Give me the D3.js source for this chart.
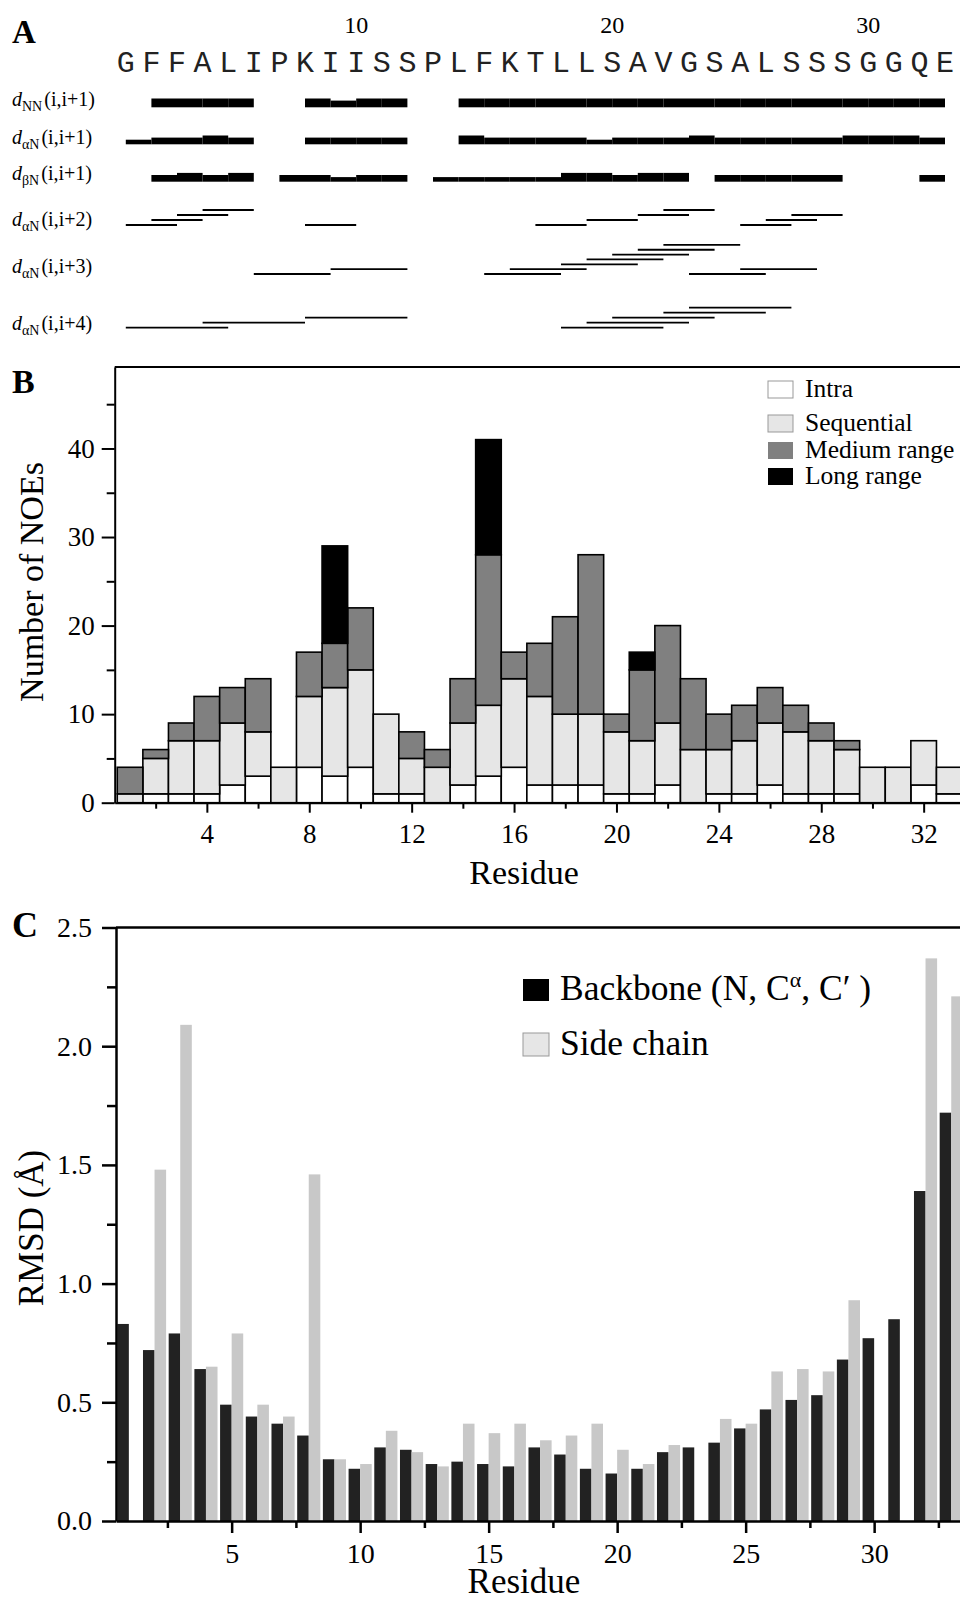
<!DOCTYPE html>
<html>
<head>
<meta charset="utf-8">
<script src="https://cdn.jsdelivr.net/npm/d3@7"></script>
<style>
body { margin: 0; background: #fff; }
text { font-family: "Liberation Serif", "Times New Roman", serif; }
</style>
</head>
<body>
<svg width="960" height="1599"></svg>
<script>
// sequence, one letter per residue
var sequence = ["G","F","F","A","L","I","P","K","I","I","S","S","P","L","F","K","T","L","L","S","A","V","G","S","A","L","S","S","S","G","G","Q","E"]
var seqNumbers = [10, 20, 30]

// panel A: sequential connectivities [i, strength], segment i -> i+1
var dNN = [[2,3],[3,3],[4,3],[5,3],[8,3],[9,2],[10,3],[11,3],[14,3],[15,3],[16,3],[17,3],[18,3],[19,3],[20,3],[21,3],[22,3],[23,3],[24,3],[25,3],[26,3],[27,3],[28,3],[29,3],[30,3],[31,3],[32,3]]
var dAN = [[1,1],[2,2],[3,2],[4,3],[5,2],[8,2],[9,2],[10,2],[11,2],[14,3],[15,2],[16,2],[17,2],[18,2],[19,1],[20,2],[21,2],[22,2],[23,3],[24,2],[25,2],[26,2],[27,2],[28,2],[29,3],[30,3],[31,3],[32,2]]
var dBN = [[2,2],[3,3],[4,2],[5,3],[7,2],[8,2],[9,1],[10,2],[11,2],[13,1],[14,1],[15,1],[16,1],[17,1],[18,3],[19,3],[20,2],[21,3],[22,3],[24,2],[25,2],[26,2],[27,2],[28,2],[32,2]]
// medium range connectivities [i, stacking level]
var dAN2 = [[1,0],[2,1],[3,2],[4,3],[8,0],[17,0],[19,1],[21,2],[22,3],[25,0],[26,1],[27,2]]
var dAN3 = [[6,0],[9,1],[15,0],[16,1],[18,2],[19,3],[20,4],[21,5],[22,6],[23,0],[25,1]]
var dAN4 = [[1,0],[4,1],[8,2],[18,0],[19,1],[20,2],[22,3],[23,4]]

// panel B: number of NOEs per residue
var noeIntra = [0,1,1,1,2,3,0,4,3,4,1,1,0,2,3,4,2,2,2,1,1,2,0,1,1,2,1,1,1,0,0,2,1]
var noeSeq   = [1,4,6,6,7,5,4,8,10,11,9,4,4,7,8,10,10,8,8,7,6,7,6,5,6,7,7,6,5,4,4,5,3]
var noeMed   = [3,1,2,5,4,6,0,5,5,7,0,3,2,5,17,3,6,11,18,2,8,11,8,4,4,4,3,2,1,0,0,0,0]
var noeLong  = [0,0,0,0,0,0,0,0,11,0,0,0,0,0,13,0,0,0,0,0,2,0,0,0,0,0,0,0,0,0,0,0,0]
var noeKeys = ["intra","seq","med","long"]
var noeNames = ["Intra","Sequential","Medium range","Long range"]
var bTicksX = [4,8,12,16,20,24,28,32]
var bMinorX = [2,6,10,14,18,22,26,30]
var bTicksY = [0,10,20,30,40]
var bMinorY = [5,15,25,35,45]

// panel C: RMSD per residue
var rmsdBackbone = [0.83,0.72,0.79,0.64,0.49,0.44,0.41,0.36,0.26,0.22,0.31,0.30,0.24,0.25,0.24,0.23,0.31,0.28,0.22,0.20,0.22,0.29,0.31,0.33,0.39,0.47,0.51,0.53,0.68,0.77,0.85,1.39,1.72]
var rmsdSide = [null,1.48,2.09,0.65,0.79,0.49,0.44,1.46,0.26,0.24,0.38,0.29,0.23,0.41,0.37,0.41,0.34,0.36,0.41,0.30,0.24,0.32,null,0.43,0.41,0.63,0.64,0.63,0.93,null,null,2.37,2.21]
var cTicksX = [5,10,15,20,25,30]
var cMinorX = [2.5,7.5,12.5,17.5,22.5,27.5,32.5]
var cTicksY = [0,0.5,1,1.5,2,2.5]
var cMinorY = [0.25,0.75,1.25,1.75,2.25]

var serif = '"Liberation Serif", "Times New Roman", serif'
var svg = d3.select("svg")

// ---------- panel A ----------
var xA = d3.scaleLinear().domain([1, 33]).range([125.8, 945])
var thick = d3.scaleLinear().domain([1, 3]).range([4.6, 8.8])

svg.append("text").attr("x", 12).attr("y", 43).attr("font-size", 33)
	.attr("font-weight", "bold").text("A")

svg.append("g").selectAll("text").data(seqNumbers).enter().append("text")
	.attr("x", function(d) { return xA(d) }).attr("y", 33)
	.attr("text-anchor", "middle").attr("font-size", 24).text(function(d) { return d })

svg.append("g").selectAll("text").data(sequence).enter().append("text")
	.attr("x", function(d, i) { return xA(i + 1) }).attr("y", 72)
	.attr("text-anchor", "middle").attr("font-size", 30).attr("fill", "#222")
	.style("font-family", '"Liberation Mono", "Courier New", monospace')
	.text(function(d) { return d })

function rowLabel(y, sub, range) {
	var t = svg.append("text").attr("x", 12).attr("y", y).attr("font-size", 20)
	t.append("tspan").attr("font-style", "italic").text("d")
	t.append("tspan").attr("font-size", 14).attr("dy", 5).text(sub)
	t.append("tspan").attr("dy", -5).attr("dx", 2).text(range)
}
rowLabel(106, "NN", "(i,i+1)")
rowLabel(144, "\u03b1N", "(i,i+1)")
rowLabel(180, "\u03b2N", "(i,i+1)")
rowLabel(226, "\u03b1N", "(i,i+2)")
rowLabel(273, "\u03b1N", "(i,i+3)")
rowLabel(330, "\u03b1N", "(i,i+4)")

function seqRow(data, bottom) {
	svg.append("g").selectAll("rect").data(data).enter().append("rect")
		.attr("x", function(d) { return xA(d[0]) })
		.attr("width", function(d) { return xA(d[0] + 1) - xA(d[0]) })
		.attr("y", function(d) { return bottom - thick(d[1]) })
		.attr("height", function(d) { return thick(d[1]) })
		.attr("fill", "#000")
}
seqRow(dNN, 107.3)
seqRow(dAN, 144.3)
seqRow(dBN, 181.7)

function medRow(data, k, base, step) {
	svg.append("g").selectAll("line").data(data).enter().append("line")
		.attr("x1", function(d) { return xA(d[0]) })
		.attr("x2", function(d) { return xA(d[0] + k) })
		.attr("y1", function(d) { return base - d[1] * step })
		.attr("y2", function(d) { return base - d[1] * step })
		.attr("stroke", "#000").attr("stroke-width", 1.8)
}
medRow(dAN2, 2, 225, 5)
medRow(dAN3, 3, 274, 4.85)
medRow(dAN4, 4, 327.7, 5)

// ---------- panel B ----------
var xB = d3.scaleLinear().domain([0.4, 33.4]).range([114.7, 959.5])
var yB = d3.scaleLinear().domain([0, 49.2]).range([802.7, 367])
var noeFill = d3.scaleOrdinal().domain(noeKeys).range(["#ffffff", "#e6e6e6", "#808080", "#000000"])

var noeRows = sequence.map(function(s, i) {
	return { res: i + 1, intra: noeIntra[i], seq: noeSeq[i], med: noeMed[i], long: noeLong[i] }
})
var stacked = d3.stack().keys(noeKeys)(noeRows)

svg.append("text").attr("x", 12).attr("y", 393).attr("font-size", 34)
	.attr("font-weight", "bold").text("B")

var gB = svg.append("g")
gB.selectAll("g.layer").data(stacked).enter().append("g").attr("class", "layer")
	.attr("fill", function(d) { return noeFill(d.key) })
	.selectAll("rect").data(function(d) { return d.filter(function(p) { return p[1] > p[0] }) })
	.enter().append("rect")
	.attr("x", function(d) { return xB(d.data.res - 0.5) })
	.attr("width", function(d) { return xB(d.data.res + 0.5) - xB(d.data.res - 0.5) })
	.attr("y", function(d) { return yB(d[1]) })
	.attr("height", function(d) { return yB(d[0]) - yB(d[1]) })
	.attr("stroke", "#000").attr("stroke-width", 1.6)

function styleAxis(g, size, width) {
	g.attr("font-family", serif).attr("font-size", size)
	g.selectAll("path, line").attr("stroke", "#000").attr("stroke-width", width)
	g.selectAll("text").attr("fill", "#000")
}

var axBx = gB.append("g").attr("transform", "translate(0,802.7)")
	.call(d3.axisBottom(xB).tickValues(bTicksX).tickSize(10).tickSizeOuter(0).tickPadding(11).tickFormat(d3.format("d")))
styleAxis(axBx, 27, 2)
var axBxm = gB.append("g").attr("transform", "translate(0,802.7)")
	.call(d3.axisBottom(xB).tickValues(bMinorX).tickSize(6).tickFormat(""))
axBxm.select(".domain").remove()
styleAxis(axBxm, 27, 2)

var axBy = gB.append("g").attr("transform", "translate(114.7,0)")
	.call(d3.axisLeft(yB).tickValues(bTicksY).tickSize(13).tickSizeOuter(0).tickPadding(7))
styleAxis(axBy, 27, 2)
var axBym = gB.append("g").attr("transform", "translate(114.7,0)")
	.call(d3.axisLeft(yB).tickValues(bMinorY).tickSize(8).tickFormat(""))
axBym.select(".domain").remove()
styleAxis(axBym, 27, 2)

gB.append("line").attr("x1", 114.7).attr("x2", 960).attr("y1", yB(49.2)).attr("y2", yB(49.2))
	.attr("stroke", "#000").attr("stroke-width", 2)

gB.append("text").attr("x", 524).attr("y", 884).attr("text-anchor", "middle")
	.attr("font-size", 34).text("Residue")
gB.append("text").attr("transform", "translate(43,582) rotate(-90)")
	.attr("text-anchor", "middle").attr("font-size", 34).text("Number of NOEs")

var legB = gB.append("g").selectAll("g").data(noeKeys).enter().append("g")
	.attr("transform", function(d, i) { return "translate(768," + [381, 415, 442, 468][i] + ")" })
legB.append("rect").attr("width", 25).attr("height", 17)
	.attr("fill", function(d) { return noeFill(d) })
	.attr("stroke", function(d, i) { return i < 2 ? "#999" : "none" })
legB.append("text").attr("x", 37).attr("y", 16).attr("font-size", 25.5)
	.text(function(d, i) { return noeNames[i] })

// ---------- panel C ----------
var xC = d3.scaleLinear().domain([0.5, 33.8]).range([116, 971.8])
var yC = d3.scaleLinear().domain([0, 2.5]).range([1521, 927.5])

svg.append("text").attr("x", 12).attr("y", 937).attr("font-size", 36)
	.attr("font-weight", "bold").text("C")

var gC = svg.append("g")
gC.append("g").selectAll("rect").data(rmsdBackbone).enter().append("rect")
	.attr("x", function(d, i) { return xC(i + 1 - 0.45) })
	.attr("width", function(d, i) { return xC(i + 1) - xC(i + 1 - 0.45) })
	.attr("y", function(d) { return yC(d) })
	.attr("height", function(d) { return yC(0) - yC(d) })
	.attr("fill", "#222")
gC.append("g").selectAll("rect").data(rmsdSide.map(function(v, i) { return { res: i + 1, v: v } })
		.filter(function(d) { return d.v !== null }))
	.enter().append("rect")
	.attr("x", function(d) { return xC(d.res) })
	.attr("width", function(d) { return xC(d.res + 0.45) - xC(d.res) })
	.attr("y", function(d) { return yC(d.v) })
	.attr("height", function(d) { return yC(0) - yC(d.v) })
	.attr("fill", "#c8c8c8")

var axCx = gC.append("g").attr("transform", "translate(0,1521)")
	.call(d3.axisBottom(xC).tickValues(cTicksX).tickSize(12).tickSizeOuter(0).tickPadding(10).tickFormat(d3.format("d")))
styleAxis(axCx, 28, 2.5)
var axCxm = gC.append("g").attr("transform", "translate(0,1521)")
	.call(d3.axisBottom(xC).tickValues(cMinorX).tickSize(7).tickFormat(""))
axCxm.select(".domain").remove()
styleAxis(axCxm, 28, 2.5)

var axCy = gC.append("g").attr("transform", "translate(116,0)")
	.call(d3.axisLeft(yC).tickValues(cTicksY).tickSize(14).tickSizeOuter(0).tickPadding(10).tickFormat(d3.format(".1f")))
styleAxis(axCy, 28, 2.5)
var axCym = gC.append("g").attr("transform", "translate(116,0)")
	.call(d3.axisLeft(yC).tickValues(cMinorY).tickSize(9).tickFormat(""))
axCym.select(".domain").remove()
styleAxis(axCym, 28, 2.5)

gC.append("line").attr("x1", 116).attr("x2", 960).attr("y1", yC(2.5)).attr("y2", yC(2.5))
	.attr("stroke", "#000").attr("stroke-width", 2.5)

gC.append("text").attr("x", 524).attr("y", 1593).attr("text-anchor", "middle")
	.attr("font-size", 35).text("Residue")
gC.append("text").attr("transform", "translate(43,1228) rotate(-90)")
	.attr("text-anchor", "middle").attr("font-size", 35).text("RMSD (\u00c5)")

gC.append("rect").attr("x", 523).attr("y", 979).attr("width", 26).attr("height", 22).attr("fill", "#000")
var lb = gC.append("text").attr("x", 560).attr("y", 1000).attr("font-size", 35.5)
lb.append("tspan").text("Backbone (N, C")
lb.append("tspan").attr("font-size", 22).attr("dy", -13).text("\u03b1")
lb.append("tspan").attr("dy", 13).text(", C\u2032 )")
gC.append("rect").attr("x", 523).attr("y", 1033).attr("width", 26).attr("height", 23)
	.attr("fill", "#e6e6e6").attr("stroke", "#999")
gC.append("text").attr("x", 560).attr("y", 1055).attr("font-size", 35.5).text("Side chain")
</script>
</body>
</html>
